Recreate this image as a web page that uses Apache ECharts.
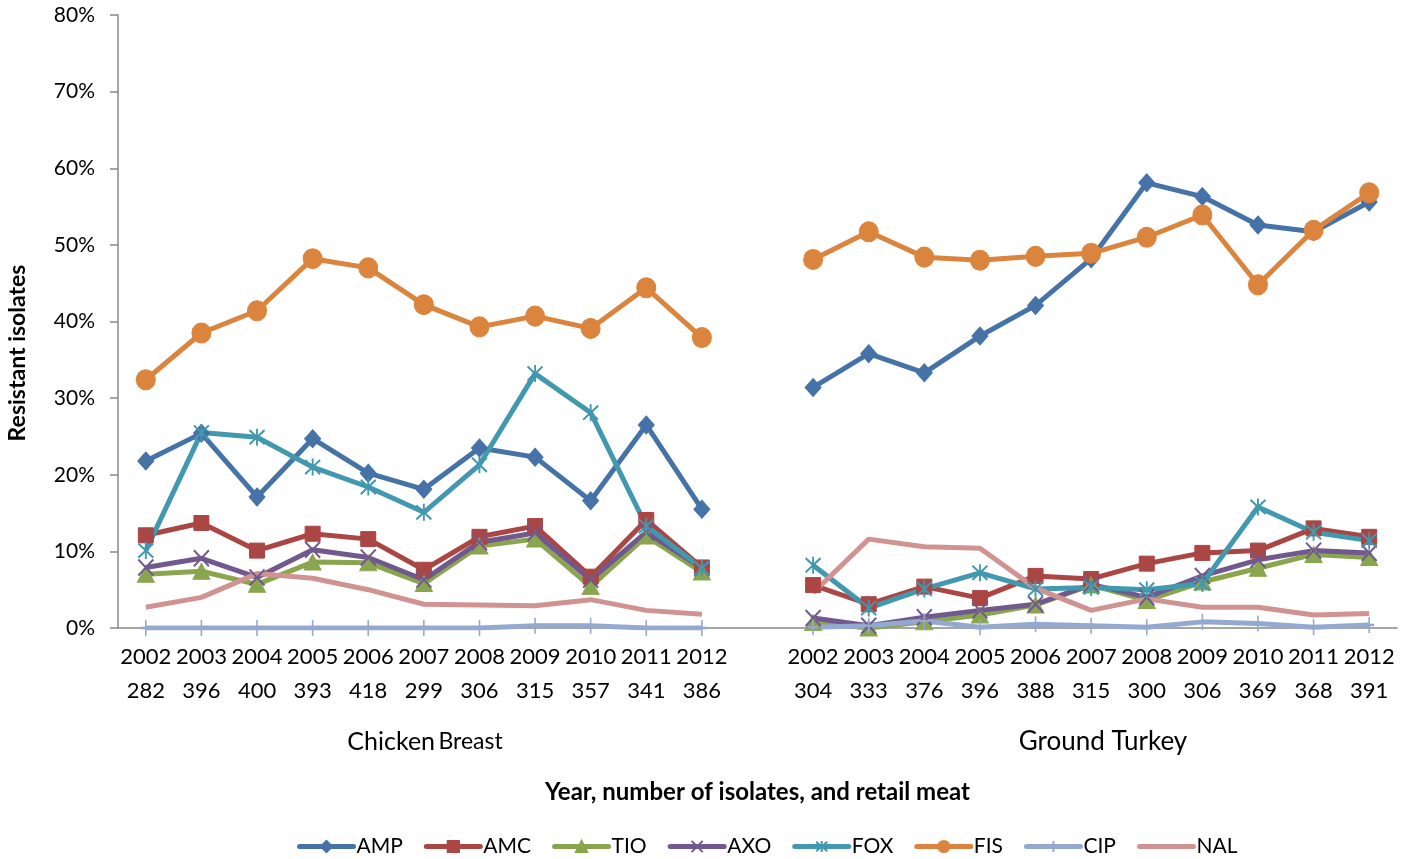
<!DOCTYPE html>
<html>
<head>
<meta charset="utf-8">
<script src="https://cdn.jsdelivr.net/npm/echarts@6/dist/echarts.min.js"></script>
<style>html,body{margin:0;padding:0;background:#fff;}#c{width:1407px;height:859px;}</style>
</head>
<body>
<div id="c"></div>
<script>
// ---- data ----
const years = ['2002','2003','2004','2005','2006','2007','2008','2009','2010','2011','2012'];
const chickenN = [282,396,400,393,418,299,306,315,357,341,386];
const turkeyN  = [304,333,376,396,388,315,300,306,369,368,391];
const yTicks = [0,10,20,30,40,50,60,70,80];
const seriesNames = ['AMP','AMC','TIO','AXO','FOX','FIS','CIP','NAL'];

const chickenAMP = [21.8,25.4,17.1,24.7,20.2,18.1,23.5,22.3,16.6,26.5,15.5];
const chickenAMC = [12.1,13.7,10.1,12.3,11.6,7.6,11.9,13.3,6.7,14.1,7.9];
const chickenTIO = [7.0,7.4,5.7,8.6,8.5,5.8,10.7,11.6,5.4,12.0,7.3];
const chickenAXO = [7.9,9.1,6.6,10.2,9.2,6.3,11.2,12.4,6.3,12.5,7.8];
const chickenFOX = [10.1,25.5,24.9,21.0,18.4,15.1,21.3,33.2,28.1,13.3,7.8];
const chickenFIS = [32.4,38.5,41.4,48.2,47.0,42.2,39.3,40.7,39.1,44.4,37.9];
const chickenCIP = [0,0,0,0,0,0,0,0.3,0.3,0,0];
const chickenNAL = [2.7,4.0,7.1,6.5,5.0,3.1,3.0,2.9,3.7,2.3,1.8];

const turkeyAMP = [31.4,35.8,33.3,38.1,42.1,48.2,58.1,56.3,52.6,51.7,55.6];
const turkeyAMC = [5.6,3.1,5.4,3.9,6.8,6.4,8.4,9.8,10.1,13.0,11.9];
const turkeyTIO = [0.7,0,0.8,1.7,3.0,5.6,3.6,6.0,7.8,9.6,9.2];
const turkeyAXO = [1.3,0.3,1.4,2.3,3.1,5.7,4.0,6.8,8.9,10.1,9.8];
const turkeyFOX = [8.2,2.6,5.1,7.2,5.1,5.3,5.0,5.8,15.8,12.5,11.4];
const turkeyFIS = [48.1,51.7,48.4,48.0,48.5,48.9,51.0,53.9,44.8,51.9,56.8];
const turkeyCIP = [0.1,0.3,0.9,0.1,0.5,0.3,0.1,0.8,0.6,0.1,0.4];
const turkeyNAL = [4.6,11.6,10.6,10.4,5.2,2.3,3.8,2.7,2.7,1.7,1.9];

// ---- build ----
const chickenData = [chickenAMP,chickenAMC,chickenTIO,chickenAXO,chickenFOX,chickenFIS,chickenCIP,chickenNAL];
const turkeyData  = [turkeyAMP,turkeyAMC,turkeyTIO,turkeyAXO,turkeyFOX,turkeyFIS,turkeyCIP,turkeyNAL];
const categories = years.map((y,i)=>y+'\n'+chickenN[i]).concat(['']).concat(years.map((y,i)=>y+'\n'+turkeyN[i]));

const colors = ['#4572A7','#AA4643','#89A54E','#71588F','#4198AF','#DB843D','#93A9CF','#D19392'];
const symbols = [
  'diamond',
  'rect',
  'triangle',
  'path://M0,0L10,10M10,0L0,10',
  'path://M5,-1L5,11M0,0L10,10M10,0L0,10',
  'circle',
  'path://M5,0L5,10M0,5L10,5',
  'none'
];
const sizes = [[16,18],15,[17,16],[15,16],[15,17],[19,20],[10,16],0];

const font = 'Lato, "Open Sans", sans-serif';
const series = seriesNames.map((name,k)=>({
  name,
  type:'line',
  data: chickenData[k].concat([null]).concat(turkeyData[k]),
  connectNulls:false,
  symbol: symbols[k],
  symbolSize: sizes[k],
  showSymbol: symbols[k] !== 'none',
  lineStyle:{color:colors[k], width:5},
  itemStyle:{color:colors[k], borderColor:colors[k], borderWidth:(k===3||k===4||k===6)?2:1},
  emphasis:{disabled:true},
  animation:false
}));

const legendData = seriesNames.map(n => n === 'NAL'
  ? {name:n, itemStyle:{color:'rgba(0,0,0,0)', borderColor:'rgba(0,0,0,0)', opacity:0}}
  : {name:n});

const chart = echarts.init(document.getElementById('c'), null, {renderer:'canvas'});
chart.setOption({
  backgroundColor:'#fff',
  color: colors,
  grid:{left:118, top:15, right:10, bottom:231, containLabel:false},
  xAxis:{
    type:'category',
    data: categories,
    boundaryGap:true,
    axisLine:{lineStyle:{color:'#888', width:1.5}},
    axisTick:{show:false},
    axisLabel:{color:'#000', fontSize:22, fontFamily:font, lineHeight:34, margin:12, interval:0},
    name:'Year, number of isolates, and retail meat',
    nameLocation:'middle',
    nameGap:152,
    nameTextStyle:{color:'#000', fontSize:24, fontWeight:'bold', fontFamily:font}
  },
  yAxis:{
    type:'value',
    min: yTicks[0], max: yTicks[yTicks.length-1], interval: 10,
    axisLine:{show:true, lineStyle:{color:'#888', width:1.5}},
    axisTick:{show:true, length:8, lineStyle:{color:'#888', width:1.5}},
    splitLine:{show:false},
    axisLabel:{color:'#000', fontSize:21, fontFamily:font, margin:23, formatter:'{value}%'}
  },
  legend:{
    data: legendData,
    left:292, top:831,
    itemWidth:54, itemHeight:14, itemGap:21,
    lineStyle:{width:5, cap:'round'},
    textStyle:{color:'#000', fontSize:21, fontFamily:font, padding:[0,0,0,-2]}
  },
  graphic:[
    {type:'text', x:425, y:742, style:{text:'{a|Chicken} {b|Breast}', align:'center', verticalAlign:'middle', rich:{a:{fontSize:25, fontFamily:font, fill:'#000'}, b:{fontSize:23, fontFamily:font, fill:'#000'}}}},
    {type:'text', x:1103, y:742, style:{text:'Ground Turkey', align:'center', verticalAlign:'middle', fontSize:26, fontFamily:font, fill:'#000'}},
    {type:'text', x:18, y:353, rotation:Math.PI/2, style:{text:'Resistant isolates', align:'center', verticalAlign:'middle', fontSize:23, fontWeight:'bold', fontFamily:font, fill:'#000'}}
  ],
  series
});
</script>
</body>
</html>
